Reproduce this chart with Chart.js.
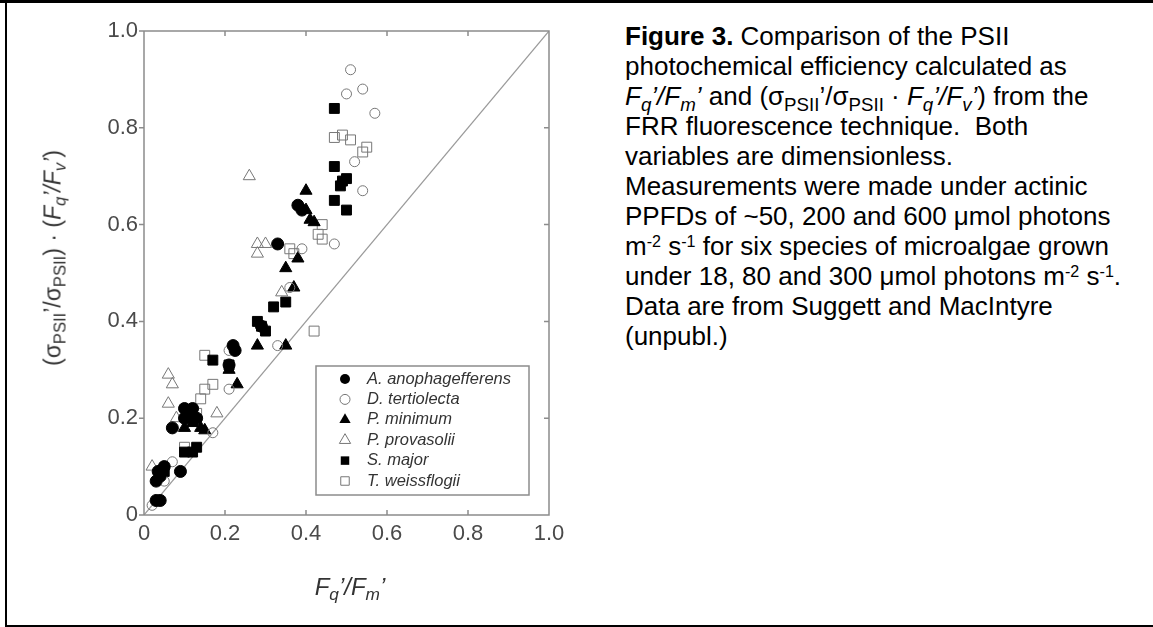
<!DOCTYPE html>
<html><head><meta charset="utf-8">
<script src="https://cdn.jsdelivr.net/npm/chart.js@4.4.1/dist/chart.umd.min.js"></script>
<style>
html,body{margin:0;padding:0;background:#fff;width:1153px;height:627px;overflow:hidden;position:relative;font-family:"Liberation Sans",Arial,sans-serif;}
#frameTop{position:absolute;left:0;top:0;width:1153px;height:3px;background:#000;}
#frameLeft{position:absolute;left:5px;top:0;width:2px;height:627px;background:#000;}
#frameBottom{position:absolute;left:5px;top:625px;width:1148px;height:2px;background:#000;}
#wrap{position:absolute;left:0;top:0;width:600px;height:627px;}
.caption{position:absolute;left:625px;top:21px;font-size:26px;line-height:30px;color:#000;white-space:nowrap;}
.sub{font-size:0.72em;position:relative;top:0.3em;line-height:0;}
.sup{font-size:0.62em;position:relative;top:-0.5em;line-height:0;}
#ytitle{position:absolute;left:53px;top:258px;transform:translate(-50%,-50%) rotate(-90deg);font-size:23px;white-space:nowrap;color:#333;line-height:1;}
#xtitle{position:absolute;left:350px;top:575px;transform:translateX(-50%);font-size:24px;font-style:italic;white-space:nowrap;color:#333;line-height:1;}
</style>
</head><body>
<div id="frameTop"></div><div id="frameLeft"></div><div id="frameBottom"></div>
<div id="wrap"><canvas id="c" width="600" height="627"></canvas></div>
<div id="ytitle">(σ<span class="sub">PSII</span>’/σ<span class="sub">PSII</span>) · (<i>F<span class="sub">q</span>’/F<span class="sub">v</span>’</i>)</div>
<div id="xtitle">F<span class="sub">q</span>’/F<span class="sub">m</span>’</div>
<div class="caption"><b>Figure 3.</b> Comparison of the PSII<br>photochemical efficiency calculated as<br><i>F<span class="sub">q</span>’/F<span class="sub">m</span>’</i> and (σ<span class="sub">PSII</span>’/σ<span class="sub">PSII</span> · <i>F<span class="sub">q</span>’/F<span class="sub">v</span>’</i>) from the<br>FRR fluorescence technique.&nbsp; Both<br>variables are dimensionless.<br>Measurements were made under actinic<br>PPFDs of ~50, 200 and 600 μmol photons<br>m<span class="sup">-2</span> s<span class="sup">-1</span> for six species of microalgae grown<br>under 18, 80 and 300 μmol photons m<span class="sup">-2</span> s<span class="sup">-1</span>.<br>Data are from Suggett and MacIntyre<br>(unpubl.)</div>
<script>
// ---- data ----
const axisTicks = [0, 0.2, 0.4, 0.6, 0.8, 1.0];
const speciesNames = ['A. anophagefferens','D. tertiolecta','P. minimum','P. provasolii','S. major','T. weissflogii'];
const aAnophagefferens = [[0.03,0.03],[0.04,0.03],[0.03,0.07],[0.04,0.08],[0.05,0.10],[0.035,0.09],[0.09,0.09],[0.07,0.18],[0.10,0.22],[0.12,0.22],[0.115,0.21],[0.10,0.20],[0.13,0.20],[0.22,0.35],[0.225,0.34],[0.21,0.31],[0.29,0.39],[0.33,0.56],[0.38,0.64],[0.39,0.63]];
const dTertiolecta = [[0.51,0.92],[0.54,0.88],[0.50,0.87],[0.57,0.83],[0.52,0.73],[0.54,0.67],[0.47,0.56],[0.39,0.55],[0.36,0.47],[0.33,0.35],[0.21,0.34],[0.21,0.26],[0.17,0.17],[0.12,0.21],[0.07,0.11],[0.05,0.07],[0.02,0.02]];
const pMinimum = [[0.40,0.67],[0.40,0.63],[0.41,0.61],[0.42,0.605],[0.35,0.51],[0.38,0.53],[0.37,0.47],[0.28,0.35],[0.35,0.35],[0.23,0.27],[0.21,0.30],[0.10,0.18],[0.12,0.19],[0.14,0.18],[0.15,0.175],[0.11,0.21]];
const pProvasolii = [[0.26,0.70],[0.28,0.56],[0.30,0.56],[0.28,0.54],[0.34,0.46],[0.06,0.29],[0.07,0.27],[0.06,0.23],[0.18,0.21],[0.08,0.20],[0.02,0.10]];
const sMajor = [[0.47,0.84],[0.47,0.72],[0.49,0.69],[0.50,0.695],[0.485,0.68],[0.47,0.65],[0.50,0.63],[0.32,0.43],[0.35,0.44],[0.28,0.40],[0.29,0.39],[0.30,0.38],[0.21,0.31],[0.17,0.32],[0.10,0.13],[0.12,0.13],[0.13,0.14],[0.05,0.09],[0.11,0.20]];
const tWeissflogii = [[0.47,0.78],[0.49,0.785],[0.51,0.775],[0.54,0.75],[0.55,0.76],[0.44,0.60],[0.43,0.58],[0.44,0.57],[0.36,0.55],[0.37,0.54],[0.42,0.38],[0.15,0.33],[0.15,0.26],[0.17,0.27],[0.14,0.24],[0.10,0.14],[0.13,0.21]];
const oneToOne = [[0,0],[1,1]];

const FONT = '"Liberation Sans", Arial, sans-serif';
const toXY = arr => arr.map(p => ({x:p[0], y:p[1]}));
const OPEN = '#777';
function ds(label, arr, style, radius, filled){
  return {label, data: toXY(arr), pointStyle: style, pointRadius: radius, pointHoverRadius: radius,
    backgroundColor: filled ? '#000' : 'rgba(0,0,0,0)', borderColor: filled ? '#000' : OPEN,
    borderWidth: 1, showLine: false, order: 1};
}
const datasets = [
  ds(speciesNames[0], aAnophagefferens, 'circle', 6, true),
  ds(speciesNames[1], dTertiolecta, 'circle', 5, false),
  ds(speciesNames[2], pMinimum, 'triangle', 7, true),
  ds(speciesNames[3], pProvasolii, 'triangle', 7, false),
  ds(speciesNames[4], sMajor, 'rect', 7, true),
  ds(speciesNames[5], tWeissflogii, 'rect', 7, false),
  {label: '1:1', type: 'line', data: toXY(oneToOne), borderColor: '#9a9a9a', borderWidth: 1.2,
   pointRadius: 0, fill: false, order: 10, isRef: true}
];

function drawMarker(ctx, style, x, y, r, filled){
  ctx.beginPath();
  if (style === 'circle') { ctx.arc(x, y, r, 0, Math.PI*2); }
  else if (style === 'triangle') {
    ctx.moveTo(x, y - r); ctx.lineTo(x + r*0.866, y + r*0.5); ctx.lineTo(x - r*0.866, y + r*0.5); ctx.closePath();
  } else { const s = r*0.7071; ctx.rect(x - s, y - s, 2*s, 2*s); }
  if (filled) { ctx.fillStyle = '#000'; ctx.fill(); }
  else { ctx.strokeStyle = OPEN; ctx.lineWidth = 1; ctx.stroke(); }
}

const framePlugin = {
  id: 'frame',
  afterDraw(chart){
    const {ctx, chartArea: a, scales: {x, y}} = chart;
    ctx.save();
    ctx.strokeStyle = '#8c8c8c'; ctx.lineWidth = 1.5;
    ctx.beginPath();
    ctx.rect(a.left, a.top, a.right - a.left, a.bottom - a.top);
    axisTicks.forEach(v => {
      const px = x.getPixelForValue(v), py = y.getPixelForValue(v);
      ctx.moveTo(px, a.bottom); ctx.lineTo(px, a.bottom - 5);
      ctx.moveTo(px, a.top); ctx.lineTo(px, a.top + 5);
      ctx.moveTo(a.left - 5, py); ctx.lineTo(a.left, py);
      ctx.moveTo(a.right, py); ctx.lineTo(a.right - 5, py);
    });
    ctx.stroke();
    // legend box
    const bw = 213, bh = 129;
    const bx = a.right - 20 - bw, by = a.bottom - 20 - bh;
    ctx.fillStyle = '#fff';
    ctx.fillRect(bx, by, bw, bh);
    ctx.strokeStyle = '#8c8c8c'; ctx.lineWidth = 1.5;
    ctx.strokeRect(bx, by, bw, bh);
    ctx.font = 'italic 16.5px ' + FONT;
    ctx.textBaseline = 'middle'; ctx.textAlign = 'left';
    const items = chart.data.datasets.filter(d => !d.isRef);
    items.forEach((d, i) => {
      const cy = by + 13 + i * 20.4;
      const filled = d.backgroundColor === '#000';
      const r = d.pointStyle === 'circle' ? 5 : (d.pointStyle === 'triangle' ? 6.5 : 6);
      drawMarker(ctx, d.pointStyle, bx + 29, cy, r, filled);
      ctx.fillStyle = '#333';
      ctx.fillText(d.label, bx + 51, cy);
    });
    ctx.restore();
  }
};

new Chart(document.getElementById('c'), {
  type: 'scatter',
  data: { datasets },
  options: {
    responsive: false, animation: false, devicePixelRatio: 1,
    layout: { padding: { top: 31, right: 51, left: 0, bottom: 0 } },
    plugins: { legend: { display: false }, tooltip: { enabled: false } },
    scales: {
      x: {
        type: 'linear', min: 0, max: 1,
        afterBuildTicks: s => { s.ticks = axisTicks.map(v => ({value: v})); },
        afterFit: s => { s.height = 112; },
        grid: { display: false, drawTicks: false },
        border: { display: false },
        ticks: { padding: 6, color: '#4a4a4a', font: { family: FONT, size: 22 },
          callback: v => v === 0 ? '0' : v.toFixed(1) }
      },
      y: {
        type: 'linear', min: 0, max: 1,
        afterBuildTicks: s => { s.ticks = axisTicks.map(v => ({value: v})); },
        afterFit: s => { s.width = 144; },
        grid: { display: false, drawTicks: false },
        border: { display: false },
        ticks: { padding: 6, color: '#4a4a4a', font: { family: FONT, size: 22 },
          callback: v => v === 0 ? '0' : v.toFixed(1) }
      }
    }
  },
  plugins: [framePlugin]
});
</script>
</body></html>
